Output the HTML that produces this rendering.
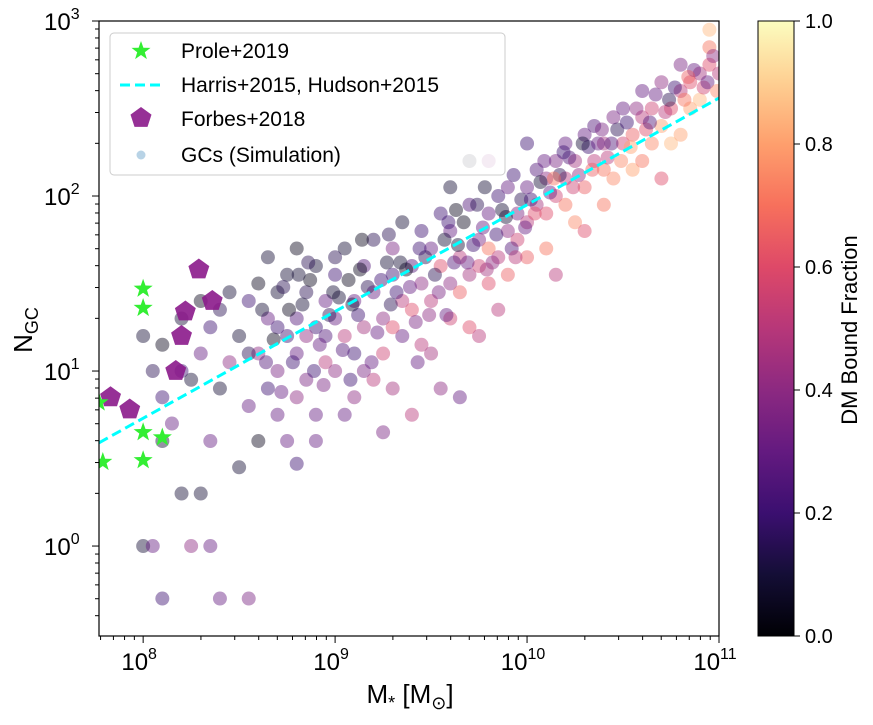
<!DOCTYPE html>
<html><head><meta charset="utf-8"><style>
body{margin:0;background:#fff;}
svg text{font-family:"Liberation Sans","DejaVu Sans",sans-serif;fill:#000;}
</style></head><body>
<svg id="chart" width="873" height="720" viewBox="0 0 873 720" xmlns="http://www.w3.org/2000/svg">
<defs>
<linearGradient id="magma" x1="0" y1="1" x2="0" y2="0">
<stop offset="0" stop-color="#000004"/><stop offset="0.1" stop-color="#140e36"/><stop offset="0.2" stop-color="#3b0f70"/><stop offset="0.3" stop-color="#641a80"/><stop offset="0.4" stop-color="#8c2981"/><stop offset="0.5" stop-color="#b73779"/><stop offset="0.6" stop-color="#de4968"/><stop offset="0.7" stop-color="#f7705c"/><stop offset="0.8" stop-color="#fe9f6d"/><stop offset="0.9" stop-color="#fecf92"/><stop offset="1" stop-color="#fcfdbf"/>
</linearGradient>
<clipPath id="plotclip"><rect x="99" y="21" width="620" height="615"/></clipPath>
</defs>
<g id="points" clip-path="url(#plotclip)"></g>
<g id="overlay" clip-path="url(#plotclip)"></g>
<rect x="99" y="21" width="620" height="615" fill="none" stroke="#000" stroke-width="1.2"/>
<g id="axes"></g>
<g>
<rect x="110" y="33" width="395" height="142" rx="4" fill="#fff" fill-opacity="0.8" stroke="#ccc"/>
<polygon points="" id="legstar" fill="#33ee33"/>
<text x="181" y="58" font-size="21">Prole+2019</text>
<line x1="120" y1="85" x2="163" y2="85" stroke="#00ffff" stroke-width="3" stroke-dasharray="10,5"/>
<text x="181" y="92" font-size="21">Harris+2015, Hudson+2015</text>
<polygon id="legpent" fill="#8b1a8b" fill-opacity="0.9"/>
<text x="181" y="126" font-size="21">Forbes+2018</text>
<circle cx="141" cy="155" r="4.5" fill="#a6c8e0" fill-opacity="0.8"/>
<text x="181" y="162" font-size="21">GCs (Simulation)</text>
</g>
<g>
<rect x="758" y="21" width="36" height="615" fill="url(#magma)" stroke="#000" stroke-width="1"/>
</g>
<g id="cbticks"></g>
<text x="410" y="703" font-size="26" text-anchor="middle">M<tspan font-size="18" dy="6">*</tspan><tspan dy="-6"> [M</tspan><tspan font-size="18" dy="6">⊙</tspan><tspan dy="-6">]</tspan></text>
<text transform="translate(32,330) rotate(-90)" font-size="26" text-anchor="middle">N<tspan font-size="18" dy="6">GC</tspan></text>
<text transform="translate(857,330) rotate(-90)" font-size="22" text-anchor="middle">DM Bound Fraction</text>
</svg>
<script>
const xMin=7.77, xMax=11.0, yMin=-0.514, yMax=3.0;
const xTicks=[8,9,10,11];
const xTickLabels=["10","10","10","10"];
const xTickExp=["8","9","10","11"];
const yTicks=[0,1,2,3];
const yTickExp=["0","1","2","3"];
const cbTicks=[0,0.2,0.4,0.6,0.8,1.0];
const cbTickLabels=["0.0","0.2","0.4","0.6","0.8","1.0"];
const simLogM=[8.0,8.05,8.1,8.1,8.15,8.2,8.2,8.25,8.3,8.3,8.35,8.4,8.4,8.45,8.45,8.0,8.05,8.25,8.35,8.1,8.4,8.55,8.2,8.3,8.1,8.35,8.5,
8.5,8.55,8.55,8.6,8.6,8.65,8.65,8.7,8.7,8.7,8.75,8.75,8.8,8.8,8.8,8.85,8.85,8.9,8.9,8.9,8.95,8.95,8.6,8.75,8.8,8.9,8.65,8.8,8.55,8.7,8.85,8.95,
9.0,9.0,9.0,9.05,9.05,9.1,9.1,9.1,9.15,9.15,9.2,9.2,9.2,9.25,9.25,9.3,9.3,9.3,9.35,9.35,9.4,9.4,9.4,9.45,9.45,9.45,9.05,9.25,9.35,9.0,9.15,9.3,
9.5,9.5,9.5,9.55,9.55,9.6,9.6,9.6,9.65,9.65,9.7,9.7,9.7,9.75,9.75,9.8,9.8,9.8,9.85,9.85,9.9,9.9,9.9,9.95,9.95,9.55,9.75,9.6,9.8,9.7,9.85,9.65,
10.0,10.0,10.0,10.05,10.05,10.1,10.1,10.1,10.15,10.15,10.2,10.2,10.2,10.25,10.25,10.3,10.3,10.35,10.35,10.4,10.4,10.45,10.45,10.5,10.0,10.3,10.15,10.4,
10.5,10.55,10.55,10.6,10.6,10.65,10.65,10.7,10.7,10.75,10.75,10.8,10.8,10.85,10.85,10.9,10.9,10.95,10.95,11.0,10.6,10.8,10.7,10.95,
8.62,8.68,8.73,8.78,8.83,8.87,8.92,8.97,8.64,8.72,8.81,8.89,8.94,8.99,8.76,8.86,
9.02,9.07,9.12,9.17,9.22,9.27,9.32,9.37,9.42,9.47,9.04,9.09,9.14,9.19,9.24,9.29,9.34,9.39,9.44,9.49,9.13,9.28,9.43,9.08,
9.52,9.57,9.62,9.67,9.72,9.77,9.82,9.87,9.92,9.97,9.54,9.59,9.64,9.69,9.74,9.79,9.84,9.89,9.94,9.99,9.63,9.78,9.93,9.58,
10.02,10.07,10.12,10.17,10.22,10.27,10.32,10.37,10.42,10.47,10.04,10.09,10.14,10.19,10.24,10.29,10.34,10.39,10.44,10.49,
10.52,10.57,10.62,10.67,10.72,10.77,10.82,10.87,10.92,10.97,10.54,10.64,10.74,10.84,10.94,10.99];
const simLogN=[1.2,1.0,0.85,1.15,0.7,1.3,1.0,0.95,1.4,1.1,1.25,0.9,1.35,1.05,1.45,0,0,0,0,-0.3,-0.3,-0.3,0.3,0.3,0.6,0.6,0.45,
1.2,1.4,0.8,1.1,1.5,0.9,1.3,1.0,1.45,0.75,1.2,1.55,0.85,1.3,1.1,1.45,0.95,1.25,1.6,0.75,1.05,1.4,0.6,0.6,0.47,0.6,1.65,1.7,1.1,1.25,1.2,1.2,
1.3,1.0,1.55,1.2,1.7,0.85,1.4,1.1,1.6,1.25,0.95,1.45,1.75,1.3,1.1,1.55,1.7,0.9,1.4,1.2,1.6,1.35,0.75,1.5,1.8,1.15,0.75,0.65,1.85,1.65,1.0,1.25,
1.4,1.7,1.1,1.6,1.9,1.5,1.3,1.8,1.65,1.45,1.95,1.55,1.25,1.75,1.6,1.9,1.5,1.7,2.0,1.65,1.8,1.55,2.05,1.75,1.9,0.9,1.2,2.05,2.2,2.2,1.35,0.85,
1.85,2.05,1.65,1.95,2.15,1.9,2.1,1.7,2.2,2.0,2.3,1.95,2.1,2.2,1.85,2.35,2.05,2.2,2.4,2.15,2.3,2.45,2.1,2.3,2.3,1.8,1.55,1.95,
2.5,2.35,2.15,2.45,2.6,2.3,2.5,2.4,2.65,2.5,2.3,2.6,2.75,2.5,2.65,2.7,2.55,2.75,2.85,2.7,2.2,2.35,2.1,2.95,
1.35,1.18,1.48,1.05,1.38,1.52,1.15,1.32,1.05,0.88,1.55,1.0,0.92,1.45,1.35,1.62,
1.42,1.52,1.32,1.48,1.22,1.62,1.45,1.58,1.28,1.65,1.12,1.38,1.75,1.05,1.52,1.38,1.62,1.48,1.7,1.32,1.58,1.78,1.05,0.95,
1.55,1.75,1.62,1.85,1.72,1.82,1.62,1.92,1.7,1.98,1.45,1.85,1.72,1.62,1.95,1.58,1.78,1.88,1.65,1.82,1.92,2.05,2.12,1.32,
1.98,2.08,2.02,2.12,2.22,2.12,2.28,2.3,2.22,2.38,1.9,2.2,2.1,2.25,2.05,2.3,2.15,2.38,2.3,2.2,
2.42,2.5,2.38,2.58,2.48,2.62,2.55,2.72,2.62,2.8,2.28,2.42,2.55,2.68,2.65,2.6];
const simFrac=[.1,.15,.2,.05,.3,.1,.2,.1,.05,.3,.2,.1,.15,.4,.1,.1,.3,.4,.3,.2,.3,.35,.1,.1,.1,.3,.1,
.1,.2,.3,.4,.05,.2,.3,.35,.1,.3,.2,.1,.4,.25,.3,.15,.35,.2,.1,.3,.5,.3,.05,.3,.2,.3,.1,.05,.15,.2,.4,.25,
.3,.4,.2,.5,.1,.4,.3,.2,.25,.45,.5,.3,.15,.4,.55,.2,.35,.45,.5,.3,.25,.6,.5,.4,.2,.5,.3,.35,.1,.15,.35,.6,
.5,.3,.45,.6,.2,.4,.55,.3,.5,.65,.25,.45,.6,.35,.55,.3,.6,.7,.2,.5,.4,.65,.3,.55,.35,.4,.5,.1,.4,.05,.5,.3,
.5,.3,.65,.45,.25,.6,.4,.7,.35,.55,.3,.7,.5,.45,.75,.3,.65,.5,.25,.7,.45,.35,.75,.55,.2,.6,.5,.7,
.3,.65,.8,.5,.3,.75,.55,.8,.4,.6,.85,.5,.35,.8,.6,.45,.85,.6,.7,.5,.7,.8,.6,.85,
.1,.05,.15,.2,.1,.05,.3,.15,.25,.3,.1,.2,.35,.1,.05,.15,
.1,.05,.2,.15,.3,.1,.2,.05,.35,.15,.25,.1,.05,.3,.2,.15,.1,.3,.2,.4,.05,.15,.3,.2,
.15,.1,.25,.05,.2,.3,.4,.1,.25,.15,.35,.2,.1,.3,.15,.45,.2,.1,.5,.3,.05,.1,.2,.3,
.2,.1,.3,.15,.25,.4,.2,.3,.5,.15,.6,.3,.7,.2,.55,.1,.65,.35,.25,.75,
.2,.4,.6,.3,.5,.2,.7,.3,.55,.4,.8,.25,.15,.65,.3,.75];
const proleLogM=[8.0,8.0,8.0,8.1,8.0,7.79,7.77];
const proleLogN=[1.47,1.36,0.65,0.62,0.49,0.48,0.82];
const forbesLogM=[8.29,8.36,8.22,8.2,8.17,7.83,7.93];
const forbesLogN=[1.58,1.4,1.34,1.2,1.0,0.85,0.78];
const harrisLogM=[7.77,11.0];
const harrisLogN=[0.59,2.56];

const X=v=>99+(v-xMin)/(xMax-xMin)*620;
const Y=v=>636-(v-yMin)/(yMax-yMin)*615;
const NS="http://www.w3.org/2000/svg";
function mk(tag,attrs,parent){const e=document.createElementNS(NS,tag);for(const k in attrs)e.setAttribute(k,attrs[k]);parent.appendChild(e);return e;}
const stops=[[0,[0,0,4]],[.1,[20,14,54]],[.2,[59,15,112]],[.3,[100,26,128]],[.4,[140,41,129]],[.5,[183,55,121]],[.6,[222,73,104]],[.7,[247,112,92]],[.8,[254,159,109]],[.9,[254,207,146]],[1,[252,253,191]]];
function magma(t){for(let i=1;i<stops.length;i++){if(t<=stops[i][0]){const a=stops[i-1],b=stops[i],f=(t-a[0])/(b[0]-a[0]);return "rgb("+a[1].map((c,j)=>Math.round(c+(b[1][j]-c)*f)).join(",")+")";}}return "rgb(252,253,191)";}
const pg=document.getElementById('points');
for(let i=0;i<simLogM.length;i++){
 const c=mk('circle',{cx:X(simLogM[i]),cy:Y(simLogN[i]),r:7,fill:magma(simFrac[i]),'fill-opacity':0.45},pg);
 
 
}
const og=document.getElementById('overlay');
const hl=mk('line',{x1:X(harrisLogM[0]),y1:Y(harrisLogN[0]),x2:X(harrisLogM[1]),y2:Y(harrisLogN[1]),stroke:'#00ffff','stroke-width':3,'stroke-dasharray':'10,5'},og);


function starPts(cx,cy,R){let p=[];for(let k=0;k<10;k++){const r=k%2?R*0.4:R;const a=-Math.PI/2+k*Math.PI/5;p.push((cx+r*Math.cos(a)).toFixed(1)+","+(cy+r*Math.sin(a)).toFixed(1));}return p.join(" ");}
function pentPts(cx,cy,R){let p=[];for(let k=0;k<5;k++){const a=-Math.PI/2+k*2*Math.PI/5;p.push((cx+R*Math.cos(a)).toFixed(1)+","+(cy+R*Math.sin(a)).toFixed(1));}return p.join(" ");}
for(let i=0;i<forbesLogM.length;i++){
 const p=mk('polygon',{points:pentPts(X(forbesLogM[i]),Y(forbesLogN[i]),11),fill:'#8b1a8b','fill-opacity':0.9},og);
 
 
}
for(let i=0;i<proleLogM.length;i++){
 const p=mk('polygon',{points:starPts(X(proleLogM[i]),Y(proleLogN[i]),10),fill:'#33ee33'},og);
 
 
}
document.getElementById('legstar').setAttribute('points',starPts(141,51,10));
document.getElementById('legpent').setAttribute('points',pentPts(141,118,11));
const ax=document.getElementById('axes');
for(let d=7;d<=11;d++){for(let m=1;m<10;m++){const v=d+Math.log10(m);if(v<xMin-1e-6||v>xMax+1e-6)continue;const x=X(v);mk('line',{x1:x,y1:636,x2:x,y2:636+(m==1?7:4),stroke:'#000','stroke-width':1},ax);}}
for(let d=-1;d<=3;d++){for(let m=1;m<10;m++){const v=d+Math.log10(m);if(v<yMin-1e-6||v>yMax+1e-6)continue;const y=Y(v);mk('line',{x1:99,y1:y,x2:99-(m==1?7:4),y2:y,stroke:'#000','stroke-width':1},ax);}}
for(let i=0;i<xTicks.length;i++){
 const t=mk('text',{x:X(xTicks[i])-4,y:670,'font-size':24,'text-anchor':'middle'},ax);
 
 
 t.textContent=xTickLabels[i];
 const s=mk('tspan',{'font-size':16,dy:-11},t);s.textContent=xTickExp[i];
}
for(let i=0;i<yTicks.length;i++){
 const t=mk('text',{x:44,y:Y(yTicks[i])+9,'font-size':24},ax);
 
 
 t.textContent="10";
 const s=mk('tspan',{'font-size':16,dy:-11},t);s.textContent=yTickExp[i];
}
const cb=document.getElementById('cbticks');
for(let i=0;i<cbTicks.length;i++){
 const y=636-cbTicks[i]*615;
 mk('line',{x1:794,y1:y,x2:800,y2:y,stroke:'#000'},cb);
 const t=mk('text',{x:805,y:y+7,'font-size':20},cb);
 
 
 t.textContent=cbTickLabels[i];
}
</script>
</body></html>
